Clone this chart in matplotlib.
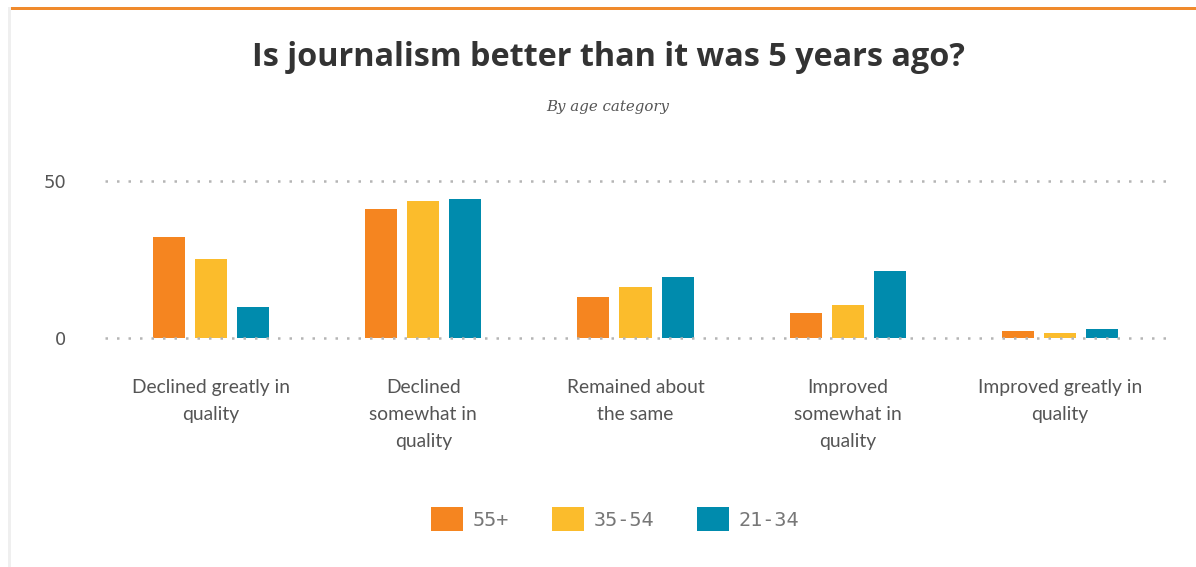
import matplotlib.pyplot as plt
import numpy as np
from matplotlib.patches import Rectangle

# survey answers and share of respondents per age group
categories = ['Declined greatly in\nquality', 'Declined\nsomewhat in\nquality',
              'Remained about\nthe same', 'Improved\nsomewhat in\nquality',
              'Improved greatly in\nquality']
groups = ['55+', '35-54', '21-34']
age_55_plus = [32.2, 41.1, 13.1, 8.0, 2.2]
age_35_54 = [25.2, 43.6, 16.2, 10.5, 1.6]
age_21_34 = [9.9, 44.3, 19.4, 21.3, 2.9]
colors = ['#f58520', '#fbbc2c', '#008bad']

W, H = 1196, 567
fig = plt.figure(figsize=(W / 100, H / 100), dpi=100)
fig.patch.set_facecolor('white')

# page chrome: grey strip on the left and orange rule on top
fig.add_artist(Rectangle((8 / W, 0), 3 / W, 1 - 7 / H, transform=fig.transFigure,
                         color='#efefef', lw=0))
fig.add_artist(Rectangle((11 / W, 1 - 10 / H), 1 - 11 / W, 3 / H,
                         transform=fig.transFigure, color='#f08a2c', lw=0))

fig.text(608 / W, 1 - 58 / H, 'Is journalism better than it was 5 years ago?',
         ha='center', va='center', fontsize=23.3, fontweight='bold',
         color='#333333', family='Open Sans')
fig.text(608 / W, 1 - 107 / H, 'By age category', ha='center', va='center',
         fontsize=10.8, style='italic', color='#555555', family='DejaVu Serif')

x0, x1 = 105, 1166
ax = fig.add_axes([x0 / W, 1 - 338 / H, (x1 - x0) / W, (338 - 181) / H])
ax.set_xlim(0, len(categories))
ax.set_ylim(0, 50)

x = np.arange(len(categories)) + 0.5
bw = 32 / 212
step = 42 / 212
for i, (vals, c) in enumerate(zip([age_55_plus, age_35_54, age_21_34], colors)):
    ax.bar(x + (i - 1) * step, vals, width=bw, color=c, zorder=2)

for y in [0, 50]:
    ax.axhline(y, color='#b5b5b5', lw=1.8, ls=(0, (1, 3.6)), zorder=3, clip_on=False)

for s in ax.spines.values():
    s.set_visible(False)
ax.set_xticks([])
ax.set_yticks([0, 50])
ax.set_yticklabels(['0', '50'], family='DejaVu Sans', fontsize=13, color='#555555')
ax.tick_params(axis='y', length=0, pad=28)

for xi, lab in zip(x, categories):
    ax.text(xi, -0.26, lab, transform=ax.get_xaxis_transform(), ha='center',
            va='top', fontsize=13.9, color='#555555', family='Lato',
            linespacing=1.72)

# legend drawn by hand: colour swatch followed by label
sw = [431, 552, 697]
for px, g, c in zip(sw, groups, colors):
    fig.add_artist(Rectangle((px / W, 1 - 531 / H), 32 / W, 24 / H,
                             transform=fig.transFigure, color=c, lw=0))
    fig.text((px + 42) / W, 1 - 520 / H, g, ha='left', va='center',
             fontsize=14.5, color='#777777', family='DejaVu Sans Mono')

fig.savefig('out.png', dpi=100)
